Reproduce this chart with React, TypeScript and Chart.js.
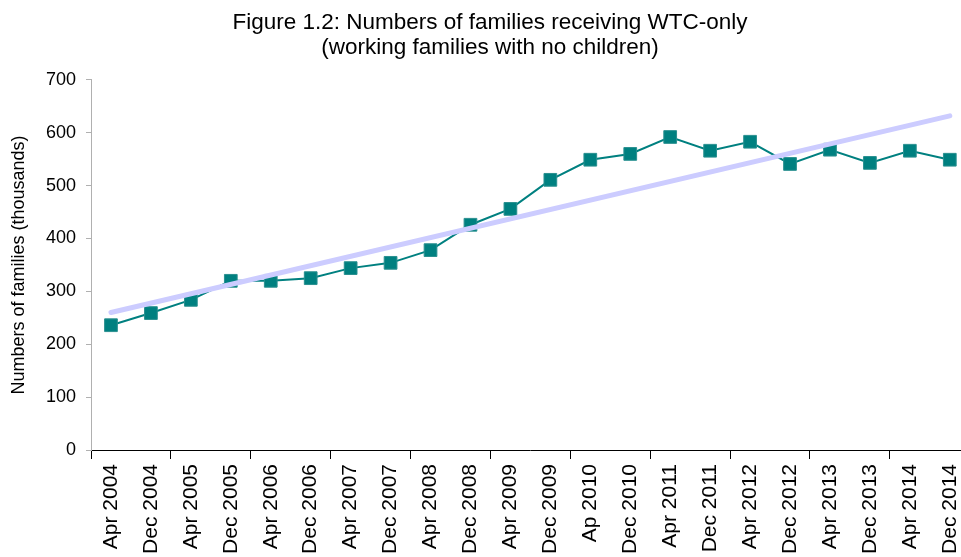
import React, { useEffect, useRef } from "react";
import { Chart, registerables } from "chart.js";

Chart.register(...registerables);

const categories = [
  "Apr 2004", "Dec 2004", "Apr 2005", "Dec 2005", "Apr 2006", "Dec 2006",
  "Apr 2007", "Dec 2007", "Apr 2008", "Dec 2008", "Apr 2009", "Dec 2009",
  "Ap 2010", "Dec 2010", "Apr 2011", "Dec 2011", "Apr 2012", "Dec 2012",
  "Apr 2013", "Dec 2013", "Apr 2014", "Dec 2014",
];

const families = [
  236, 259, 284, 320, 320, 325, 344, 354, 378, 426, 456, 511,
  549, 560, 592, 566, 583, 541, 568, 543, 566, 549,
];

// linear trend: only endpoints given, joined by a straight line
const trend = [
  260, null, null, null, null, null, null, null, null, null, null, null,
  null, null, null, null, null, null, null, null, null, 632,
];

const yTicks = [0, 100, 200, 300, 400, 500, 600, 700];

const titleLines = [
  "Figure 1.2: Numbers of families receiving WTC-only",
  "(working families with no children)",
];

const CANVAS_W = 980;
const CANVAS_H = 557;

export default function App() {
  const ref = useRef<HTMLCanvasElement | null>(null);

  useEffect(() => {
    if (!ref.current) return;
    const font = "Arial, 'Liberation Sans', sans-serif";
    const chart = new Chart(ref.current, {
      type: "line",
      data: {
        labels: categories,
        datasets: [
          {
            label: "Trend",
            data: trend,
            borderColor: "#ccccff",
            borderWidth: 5,
            pointRadius: 0,
            spanGaps: true,
            borderCapStyle: "round",
            tension: 0,
          },
          {
            label: "Families",
            data: families,
            borderColor: "#008080",
            backgroundColor: "#008080",
            borderWidth: 2,
            pointStyle: "rect",
            pointRadius: 9,
            pointBorderWidth: 1,
            pointBorderColor: "#2a9090",
            pointBackgroundColor: "#008080",
            tension: 0,
          },
        ],
      },
      options: {
        animation: false,
        responsive: false,
        maintainAspectRatio: false,
        layout: { autoPadding: false, padding: { left: 0, right: 0, top: 0, bottom: 0 } },
        plugins: {
          legend: { display: false },
          tooltip: { enabled: false },
          title: {
            display: true,
            text: titleLines,
            color: "#000",
            font: { family: font, size: 22.5, weight: "normal", lineHeight: 1.12 },
            padding: { top: 10, bottom: 19.5 },
          },
        },
        scales: {
          x: {
            type: "category",
            offset: true,
            afterFit: (axis: any) => {
              axis.height = CANVAS_H - 450;
            },
            grid: {
              offset: true,
              drawOnChartArea: false,
              drawTicks: true,
              tickLength: 9,
              color: (ctx: any) => (ctx.index % 2 === 0 ? "#000" : "rgba(0,0,0,0)"),
              lineWidth: 1,
            },
            border: { color: "#000", width: 1 },
            ticks: {
              autoSkip: false,
              maxRotation: 90,
              minRotation: 90,
              color: "#000",
              padding: 5,
              font: { family: font, size: 21 },
            },
          },
          y: {
            min: 0,
            max: 700,
            afterFit: (axis: any) => {
              axis.width = 91;
            },
            afterBuildTicks: (axis: any) => {
              axis.ticks = yTicks.map((v) => ({ value: v }));
            },
            grid: {
              drawOnChartArea: false,
              drawTicks: true,
              tickLength: 5,
              color: "#b0b0b0",
            },
            border: { color: "#b0b0b0", width: 1 },
            ticks: {
              color: "#000",
              padding: 10,
              font: { family: font, size: 18 },
            },
            title: {
              display: true,
              text: "Numbers of families (thousands)",
              color: "#000",
              font: { family: font, size: 18 },
              padding: { top: 8, bottom: 0 },
            },
          },
        },
      },
    });
    return () => chart.destroy();
  }, []);

  return (
    <div style={{ position: "fixed", left: 0, top: 0, width: 961, height: 557, overflow: "hidden", background: "#fff" }}>
      <canvas ref={ref} width={CANVAS_W} height={CANVAS_H} style={{ display: "block", width: CANVAS_W, height: CANVAS_H }} />
    </div>
  );
}
